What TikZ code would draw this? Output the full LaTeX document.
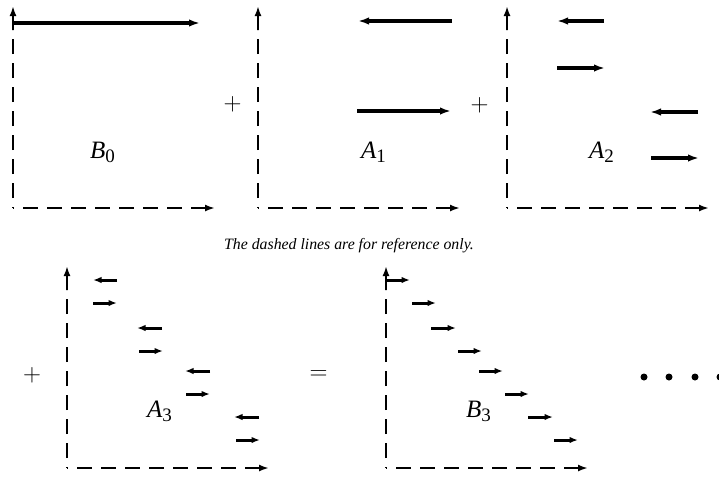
\documentclass[tikz,border=0pt]{standalone}
\usepackage{fontspec}
\setmainfont{Liberation Serif}
\usetikzlibrary{arrows.meta}
\tikzset{
  dashaxis/.style={line width=2.1pt,dash pattern=on 15pt off 9pt,dash phase=14pt},
  axistip/.style={line width=2.1pt,-{Latex[length=10pt,width=7pt]}},
  bigarrow/.style={line width=3.2pt,-{Latex[length=11pt,width=7.5pt]}},
  smallarrow/.style={line width=3pt,-{Latex[length=8.5pt,width=6.5pt]}},
  lbl/.style={anchor=base west,inner sep=0pt,font=\fontsize{25}{29}\selectfont\itshape},
  opsign/.style={inner sep=0pt,font=\fontsize{25}{29}\selectfont},
  caption/.style={anchor=base,inner sep=0pt,font=\fontsize{15.8}{18}\selectfont\itshape},
  dotmark/.style={circle,fill=black,inner sep=0pt,minimum size=7pt},
  axes/.pic={
    \coordinate (-o) at (0,0);
    \coordinate (-ym) at (0,-178);
    \coordinate (-yt) at (0,-202);
    \coordinate (-xm) at (178,0);
    \coordinate (-xt) at (202,0);
    \draw[dashaxis] (-o) -- (-ym);
    \draw[axistip] (-ym) -- (-yt);
    \draw[dashaxis] (-o) -- (-xm);
    \draw[axistip] (-xm) -- (-xt);
  }
}
\newcommand{\lab}[2]{#1\raisebox{-4.5pt}{\fontsize{19}{21}\selectfont\upshape #2}}
\begin{document}
\begin{tikzpicture}[x=1pt,y=-1pt]
\useasboundingbox (0,0) rectangle (719,480);
% axes
\pic (p0) at (13,208) {axes};
\pic (p1) at (258,208) {axes};
\pic (p2) at (507,208) {axes};
\pic (p3) at (67,468) {axes};
\pic (p4) at (386,468) {axes};
% B0
\coordinate (b0s) at (13,23); \coordinate (b0e) at (200,23);
\draw[bigarrow] (b0s) -- (b0e);
% A1
\coordinate (a1as) at (452,21); \coordinate (a1ae) at (358,21);
\coordinate (a1bs) at (357,111); \coordinate (a1be) at (451,111);
\draw[bigarrow] (a1as) -- (a1ae);
\draw[bigarrow] (a1bs) -- (a1be);
% A2
\coordinate (a2as) at (604,21); \coordinate (a2ae) at (557,21);
\coordinate (a2bs) at (557,68); \coordinate (a2be) at (605,68);
\coordinate (a2cs) at (698,112); \coordinate (a2ce) at (650,112);
\coordinate (a2ds) at (651,158); \coordinate (a2de) at (699,158);
\draw[bigarrow] (a2as) -- (a2ae);
\draw[bigarrow] (a2bs) -- (a2be);
\draw[bigarrow] (a2cs) -- (a2ce);
\draw[bigarrow] (a2ds) -- (a2de);
% A3
\foreach \xs/\xe/\yy [count=\i] in {117/93/280,93/117/303,162/137/328,139/163/351,210/185/371,186/210/394,259/234/417,236/260/440}{
  \coordinate (a3s\i) at (\xs,\yy); \coordinate (a3e\i) at (\xe,\yy);
  \draw[smallarrow] (a3s\i) -- (a3e\i);
}
% B3
\foreach \xs/\xe/\yy [count=\i] in {386/410/280,412/436/303,431/456/328,458/482/351,479/503/371,505/529/394,528/553/417,554/578/440}{
  \coordinate (b3s\i) at (\xs,\yy); \coordinate (b3e\i) at (\xe,\yy);
  \draw[smallarrow] (b3s\i) -- (b3e\i);
}
% labels
\node[lbl] (lb0) at (90,158) {\lab{B}{0}};
\node[lbl] (la1) at (361,158) {\lab{A}{1}};
\node[lbl] (la2) at (589,158) {\lab{A}{2}};
\node[lbl] (la3) at (147,417) {\lab{A}{3}};
\node[lbl] (lb3) at (466,417) {\lab{B}{3}};
% operators
\node[opsign] (plus1) at (232.5,104.5) {$+$};
\node[opsign] (plus2) at (479.5,105.5) {$+$};
\node[opsign] (plus3) at (32,375.5) {$+$};
\node[opsign] (eq) at (318.5,375) {$=$};
% caption
\node[caption] (cap) at (349,249) {The dashed lines are for reference only.};
% dots
\foreach \xx [count=\i] in {644,669,695,720}{
  \node[dotmark] (d\i) at (\xx,377) {};
}
\end{tikzpicture}
\end{document}
